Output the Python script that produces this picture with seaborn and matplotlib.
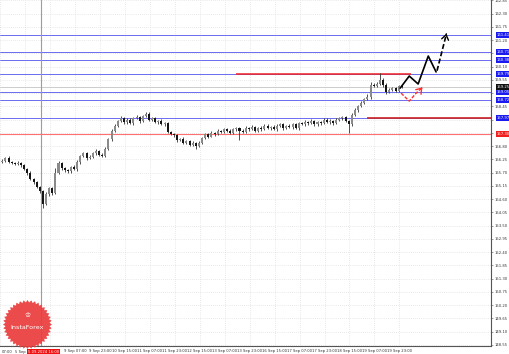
import numpy as np
import pandas as pd
import seaborn as sns
import matplotlib
matplotlib.use("Agg")
import matplotlib.pyplot as plt
from matplotlib import transforms
from matplotlib.patches import Polygon

# ---------------- data ----------------
first_open = 156.15
closes = [
    156.20, 156.30, 156.15, 156.10, 156.05, 156.12, 156.00, 155.85, 155.70, 155.45,
    155.30, 155.10, 154.95, 154.40, 154.80, 155.05, 154.85, 155.70, 156.10, 155.90,
    155.80, 155.75, 155.95, 155.85, 156.15, 156.40, 156.50, 156.30, 156.35, 156.50,
    156.60, 156.45, 156.40, 156.70, 157.10, 157.45, 157.65, 157.85, 157.95, 157.80,
    157.90, 157.75, 157.95, 158.00, 157.85, 158.05, 158.15, 157.90, 157.95, 157.80,
    157.85, 157.70, 157.75, 157.40, 157.30, 157.25, 157.05, 157.10, 156.95, 157.00,
    156.85, 156.95, 156.80, 156.95, 157.15, 157.30, 157.20, 157.35, 157.30, 157.45,
    157.40, 157.50, 157.45, 157.35, 157.50, 157.55, 157.45, 157.40, 157.55, 157.50,
    157.60, 157.45, 157.55, 157.50, 157.65, 157.55, 157.60, 157.50, 157.65, 157.70,
    157.55, 157.65, 157.60, 157.70, 157.55, 157.75, 157.70, 157.80, 157.75, 157.85,
    157.70, 157.80, 157.75, 157.90, 157.80, 157.85, 157.75, 157.90, 157.95, 158.00,
    157.85, 157.70, 158.10, 158.30, 158.45, 158.60, 158.75, 158.85, 159.35, 159.30,
    159.40, 159.55, 159.35, 159.05, 159.15, 159.20, 159.10, 159.30, 159.25,
]
# upper / lower wick lengths in hundredths of a yen
wick_up = [
    6, 5, 8, 4, 5, 7, 3, 6, 4, 5,
    4, 6, 3, 5, 8, 6, 4, 20, 8, 6,
    5, 7, 4, 6, 8, 5, 6, 4, 7, 5,
    8, 5, 6, 7, 5, 6, 8, 4, 9, 6,
    5, 7, 4, 8, 6, 5, 5, 7, 4, 6,
    5, 6, 4, 7, 5, 6, 4, 5, 6, 4,
    5, 7, 4, 6, 5, 6, 4, 8, 5, 6,
    4, 5, 7, 6, 4, 5, 6, 5, 7, 4,
    6, 5, 4, 7, 5, 6, 4, 8, 5, 6,
    5, 4, 7, 5, 6, 4, 5, 7, 4, 6,
    5, 6, 4, 7, 5, 6, 4, 5, 7, 6,
    5, 4, 6, 8, 5, 7, 6, 10, 10, 8,
    7, 30, 6, 8, 5, 7, 6, 5, 4,
]
wick_dn = [
    5, 7, 4, 6, 5, 4, 7, 5, 8, 6,
    7, 5, 8, 17, 6, 5, 7, 4, 6, 8,
    6, 5, 7, 4, 6, 8, 5, 7, 4, 6,
    5, 7, 6, 4, 5, 8, 6, 5, 4, 7,
    6, 5, 7, 4, 8, 5, 6, 4, 7, 5,
    6, 4, 5, 7, 5, 6, 8, 4, 5, 7,
    6, 5, 10, 4, 6, 5, 7, 4, 6, 5,
    7, 4, 5, 6, 4, 5, 40, 6, 5, 7,
    4, 6, 5, 7, 4, 5, 6, 4, 7, 5,
    6, 5, 4, 7, 5, 6, 4, 5, 6, 4,
    7, 5, 6, 4, 5, 7, 6, 4, 5, 6,
    5, 35, 6, 5, 7, 4, 6, 5, 8, 6,
    5, 6, 8, 7, 5, 6, 4, 5, 5,
]

x_tick_labels = [
    "", "", "", "9 Sep 07:00", "9 Sep 23:00",
    "10 Sep 15:00", "11 Sep 07:00", "11 Sep 23:00", "12 Sep 15:00", "13 Sep 07:00",
    "13 Sep 23:00", "16 Sep 15:00", "17 Sep 07:00", "17 Sep 23:00", "18 Sep 15:00",
    "19 Sep 07:00", "19 Sep 23:00",
]
left_edge_label = "07:00"
partial_label = "5 Sep"

blue_levels = [161.41, 160.71, 160.38, 159.79, 159.05, 158.72, 157.97]
red_level_full = 157.30
current_price = 159.25
red_seg_high = 159.79
red_seg_low = 157.97

# forecast paths (hour index, price)
fc_black_x = [256.0, 261.8, 267.5, 274.0, 279.0]
fc_black_y = [159.21, 159.71, 159.38, 160.54, 159.88]
fc_black_dash_x = [279.6, 285.2]
fc_black_dash_y = [159.93, 161.35]
fc_red_x = [256.6, 261.8, 266.2, 269.6]
fc_red_y = [159.00, 158.67, 159.00, 159.20]

vline_hour = 26.0
vline_label = "5.09.2024 16:00"

# ---------------- build frame ----------------
n = len(closes)
assert len(wick_up) == n and len(wick_dn) == n
df = pd.DataFrame({"close": closes})
df["open"] = [first_open] + closes[:-1]
df["hour"] = 1 + 2 * np.arange(n)
df["high"] = df[["open", "close"]].max(axis=1) + np.array(wick_up) / 100
df["low"] = df[["open", "close"]].min(axis=1) - np.array(wick_dn) / 100
df["up"] = df["close"] >= df["open"]

# ---------------- figure ----------------
sns.set_style("white")
plt.rcParams["font.family"] = ["DejaVu Sans"]

W, H = 510, 354
fig = plt.figure(figsize=(W / 100, H / 100), dpi=100)
fig.patch.set_facecolor("white")
ax = fig.add_axes([0, 8 / H, 491 / W, 346 / H])
ax.set_xlim(0, 314.2)
ax.set_ylim(148.508, 162.865)

box_levels = blue_levels + [red_level_full, current_price]
yt = np.round(148.55 + 0.55 * np.arange(27), 2)
ax.set_yticks(yt)
ax.set_yticklabels(["" if min(abs(v - b) for b in box_levels) < 0.17 else f"{v:.2f}"
                    for v in yt])
xt = [-0.5 + 16 * k for k in range(len(x_tick_labels))]
ax.set_xticks(xt)
ax.set_xticklabels(x_tick_labels)
ax.yaxis.tick_right()
ax.grid(True, color="#d4d4d4", linestyle=(0, (1, 2)), linewidth=0.5)
ax.set_axisbelow(True)
for s in ["top", "left"]:
    ax.spines[s].set_visible(False)
for s in ["right", "bottom"]:
    ax.spines[s].set_color("#555555")
    ax.spines[s].set_linewidth(0.8)
ax.tick_params(axis="both", labelsize=2.7, length=1.5, width=0.4, pad=1,
               colors="#555555", labelcolor="#333333")
tr_x = transforms.blended_transform_factory(ax.transData, ax.transAxes)
ax.text(0.004, -0.012, left_edge_label, transform=ax.transAxes, ha="left", va="top",
        fontsize=2.7, color="#333333", clip_on=False)
ax.text(16.2, -0.012, partial_label, transform=tr_x, ha="right", va="top",
        fontsize=2.7, color="#333333", clip_on=False)

# horizontal levels
for v in blue_levels:
    ax.axhline(v, color="#6b6bf0", lw=0.7, zorder=1)
ax.axhline(red_level_full, color="#ff7070", lw=0.8, zorder=1)
ax.axhline(current_price, color="#c4c4c4", lw=0.6, zorder=1)
ax.hlines(red_seg_high, 151, 263, color="#ee2222", lw=1.1, zorder=2)
ax.hlines(red_seg_low, 235, 314.2, color="#cc2222", lw=1.2, zorder=2)
ax.axvline(vline_hour, color="#b89090", lw=0.8, zorder=1)

# candles
ax.vlines(df["hour"], df["low"], df["high"], color="#333333", lw=0.6, zorder=3)
ax.bar(df["hour"], (df["close"] - df["open"]).abs().clip(lower=0.02),
       bottom=df[["open", "close"]].min(axis=1), width=1.3,
       color=np.where(df["up"], "#8a8a8a", "#151515"),
       edgecolor="none", linewidth=0, zorder=4)

# forecasts
sns.lineplot(x=fc_black_x, y=fc_black_y, sort=False, color="black", lw=1.2, ax=ax, zorder=6)
sns.lineplot(x=fc_black_dash_x, y=fc_black_dash_y, sort=False, color="black", lw=1.2,
             ax=ax, zorder=6, linestyle=(0, (3, 1.5)))
ax.annotate("", xy=(fc_black_dash_x[-1] + 0.4, fc_black_dash_y[-1] + 0.12),
            xytext=(fc_black_dash_x[-1], fc_black_dash_y[-1]),
            arrowprops=dict(arrowstyle="->,head_length=0.35,head_width=0.25",
                            color="black", lw=1.0), zorder=7)
sns.lineplot(x=fc_red_x, y=fc_red_y, sort=False, color="#ff3030", lw=1.0,
             ax=ax, zorder=6, linestyle=(0, (2.5, 1.2)))
ax.annotate("", xy=(fc_red_x[-1] + 0.6, fc_red_y[-1] + 0.04),
            xytext=(fc_red_x[-1] - 1.0, fc_red_y[-1] - 0.08),
            arrowprops=dict(arrowstyle="->,head_length=0.35,head_width=0.25",
                            color="#ff3030", lw=1.0), zorder=7)

# price label boxes on the right axis
tr_y = transforms.blended_transform_factory(ax.transAxes, ax.transData)
def ybox(v, fc):
    ax.text(1.012, v, f"{v:.2f}", transform=tr_y, ha="left", va="center",
            fontsize=2.7, color="white", clip_on=False, zorder=10,
            bbox=dict(boxstyle="square,pad=0.2", fc=fc, ec="none"))
for v in blue_levels:
    ybox(v, "#1b1bf0")
ybox(red_level_full, "#f02020")
ybox(current_price, "#111111")

# time label box
ax.text(vline_hour + 1.5, -0.012, vline_label, transform=tr_x, ha="center", va="top",
        fontsize=2.7, color="white", clip_on=False, zorder=10,
        bbox=dict(boxstyle="square,pad=0.3", fc="#f01010", ec="none"))

# watermark logo
wax = fig.add_axes([3 / W, (H - 349) / H, 49 / W, 49 / H])
wax.set_xlim(-1, 1)
wax.set_ylim(-1, 1)
wax.axis("off")
ang = np.linspace(0, 2 * np.pi, 81)[:-1]
rad = np.where(np.arange(80) % 2 == 0, 1.0, 0.9)
wax.add_patch(Polygon(np.c_[rad * np.cos(ang), rad * np.sin(ang)],
                      closed=True, fc="#ea3c3c", ec="none", alpha=0.92))
wax.text(0, -0.12, "InstaForex", ha="center", va="center", fontsize=4.6, color="white")
wax.text(0, 0.38, "\u2654", ha="center", va="center", fontsize=5, color="white")

fig.savefig("out.png", dpi=100)
